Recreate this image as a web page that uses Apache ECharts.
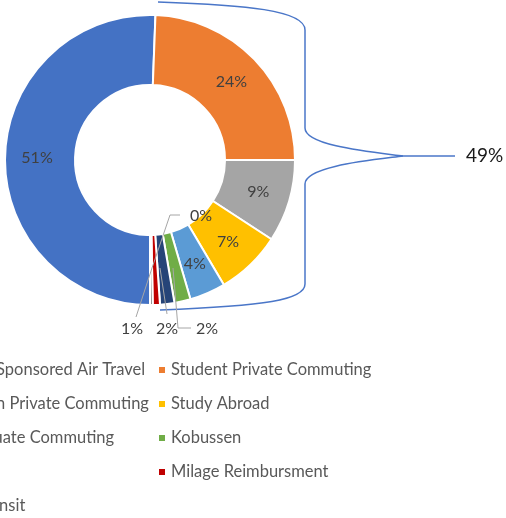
<!DOCTYPE html>
<html>
<head>
<meta charset="utf-8">
<script src="https://cdn.jsdelivr.net/npm/echarts@6/dist/echarts.min.js"></script>
<style>
  html, body { margin: 0; padding: 0; background: #fff; }
  #chart { width: 506px; height: 518px; }
</style>
</head>
<body>
<div id="chart"></div>
<script>
// Emission sources (share of total, %)
const categories = [
  'Staff Sponsored Air Travel',
  'Student Private Commuting',
  'Admin Private Commuting',
  'Study Abroad',
  'Graduate Commuting',
  'Kobussen',
  'Train',
  'Milage Reimbursment',
  'Bus Transit'
];
const shares = [50.6, 24.4, 9.2, 7.3, 4.0, 1.8, 1.6, 0.8, 0.3];
const colors = ['#4472C4', '#ED7D31', '#A5A5A5', '#FFC000', '#5B9BD5', '#70AD47', '#264478', '#C00000', '#636363'];

const FONT = 'Lato, "Open Sans", sans-serif';
const total = shares.reduce((a, b) => a + b, 0);
const pct = v => Math.round(v / total * 100) + '%';

// Small slices get their labels outside the ring, with leader lines.
const outsideLabels = {
  5: { x: 196, y: 329, align: 'left', line: [[173, 268], [178, 328], [191, 328]] },
  6: { x: 167, y: 329, align: 'center', line: [[160, 268], [167, 314]] },
  7: { x: 132, y: 329, align: 'center', line: [[152, 268], [136, 317]] },
  8: { x: 190, y: 216, align: 'left', line: [[152, 268], [170, 215], [180, 215]] }
};

const data = categories.map((name, i) => ({
  name,
  value: shares[i],
  itemStyle: { color: colors[i] },
  label: { position: outsideLabels[i] ? 'outside' : 'inside' },
  labelLine: { show: false }
}));

// Everything except the first (air travel) slice is grouped by the brace.
const groupedShare = shares.slice(1).reduce((a, b) => a + b, 0);

const leftNames = categories.filter((_, i) => i % 2 === 0);
const rightNames = categories.filter((_, i) => i % 2 === 1);

const legendBase = {
  orient: 'vertical',
  icon: 'rect',
  itemWidth: 8,
  itemHeight: 8,
  itemGap: 14,
  height: 200,
  selectedMode: false,
  textStyle: { fontFamily: FONT, fontSize: 16.5, color: '#595959', lineHeight: 20 }
};

// Brace around the grouped slices, built from curve and line pieces.
const braceStyle = { stroke: '#4a76c8', lineWidth: 1.5, fill: null };
const bez = (x1, y1, c1x, c1y, c2x, c2y, x2, y2) => ({
  type: 'bezierCurve', silent: true, z: 10,
  shape: { x1, y1, cpx1: c1x, cpy1: c1y, cpx2: c2x, cpy2: c2y, x2, y2 },
  style: braceStyle
});
const seg = (x1, y1, x2, y2) => ({
  type: 'line', silent: true, z: 10, shape: { x1, y1, x2, y2 }, style: braceStyle
});

// Leader lines drawn above the slices.
const leaders = Object.keys(outsideLabels).map(k => ({
  type: 'polyline', silent: true, z: 10,
  shape: { points: outsideLabels[k].line },
  style: { stroke: '#A6A6A6', lineWidth: 1, fill: null }
}));

const chart = echarts.init(document.getElementById('chart'), null, { renderer: 'canvas' });
chart.setOption({
  backgroundColor: '#ffffff',
  animation: false,
  color: colors,
  legend: [
    Object.assign({}, legendBase, { data: leftNames.slice(0, 4), left: -60.7, top: 355 }),
    Object.assign({}, legendBase, { data: leftNames.slice(4), left: -73, top: 491 }),
    Object.assign({}, legendBase, { data: rightNames, left: 152, top: 355 })
  ],
  series: [{
    type: 'pie',
    center: [150, 160],
    radius: [75, 145],
    startAngle: -90,
    clockwise: true,
    avoidLabelOverlap: false,
    itemStyle: { borderColor: '#ffffff', borderWidth: 2 },
    label: {
      fontFamily: FONT,
      fontSize: 16,
      color: '#404040',
      formatter: p => pct(p.value)
    },
    labelLayout: p => {
      const o = outsideLabels[p.dataIndex];
      if (!o) return {};
      return { x: o.x, y: o.y, align: o.align, verticalAlign: 'middle' };
    },
    data
  }],
  graphic: [
    bez(158, 2, 245, 5, 305, 10, 305, 30),
    seg(305, 30, 305, 128),
    bez(305, 128, 305, 146, 372, 152, 403, 156),
    bez(403, 156, 372, 160, 305, 166, 305, 184),
    seg(305, 184, 305, 284),
    bez(305, 284, 305, 300, 265, 306, 160, 310),
    seg(403, 156, 455, 156),
    ...leaders,
    {
      type: 'text',
      silent: true,
      z: 10,
      left: 466,
      top: 146,
      style: {
        text: Math.round(groupedShare) + '%',
        font: '19px ' + FONT,
        fill: '#1a1a1a'
      }
    }
  ]
});
</script>
</body>
</html>
